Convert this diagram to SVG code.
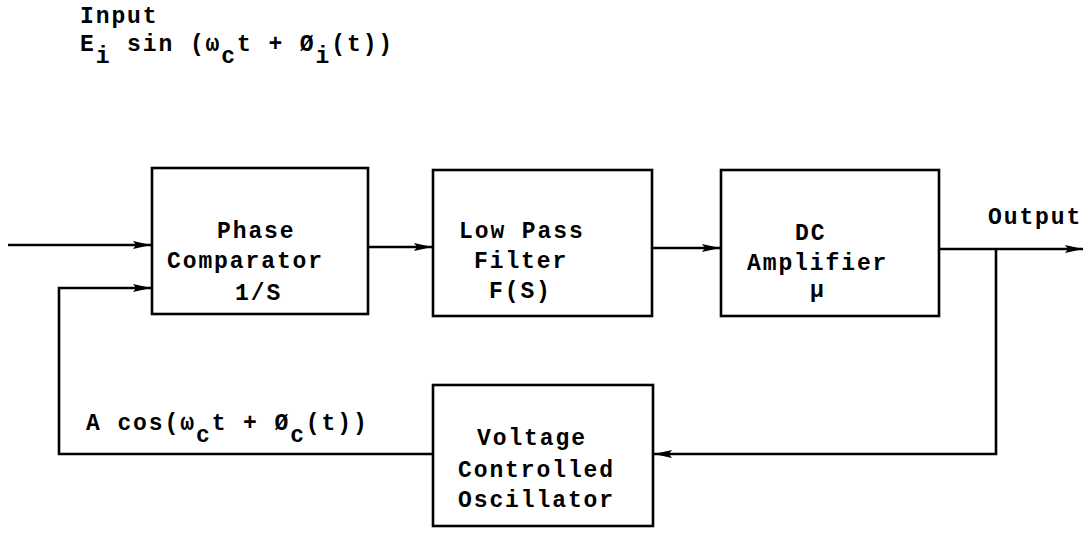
<svg xmlns="http://www.w3.org/2000/svg" width="1091" height="533" viewBox="0 0 1091 533">
<style>
  .box { fill: #fff; stroke: #000; stroke-width: 2.6; }
  .wire { fill: none; stroke: #000; stroke-width: 2.6; }
  .t { font-family: "Liberation Mono", "DejaVu Sans Mono", monospace; font-size: 23px; font-weight: bold; letter-spacing: 1.9px; fill: #000; }
</style>
<defs>
  <marker id="arr" markerUnits="userSpaceOnUse" markerWidth="20" markerHeight="10" refX="18" refY="5" orient="auto">
    <path d="M0,1 L18,5 L0,9 L3,5 z" fill="#000"/>
  </marker>
</defs>
<rect width="1091" height="533" fill="#fff"/>

<g id="input-label">
  <text class="t" x="80" y="23">Input</text>
  <text class="t" x="80" y="51">E<tspan dy="12">i</tspan><tspan dy="-12"> sin (ω</tspan><tspan dy="12">c</tspan><tspan dy="-12">t + Ø</tspan><tspan dy="12">i</tspan><tspan dy="-12">(t))</tspan></text>
</g>

<g id="connectors">
  <line class="wire" x1="8" y1="245" x2="151" y2="245" marker-end="url(#arr)"/>
  <line class="wire" x1="368" y1="247" x2="432" y2="247" marker-end="url(#arr)"/>
  <line class="wire" x1="652" y1="248" x2="720" y2="248" marker-end="url(#arr)"/>
  <line class="wire" x1="939" y1="249" x2="1083" y2="249" marker-end="url(#arr)"/>
  <polyline class="wire" points="996,249 996,454 654,454" marker-end="url(#arr)"/>
  <polyline class="wire" points="433,454 59,454 59,288 151,288" marker-end="url(#arr)"/>
</g>

<g id="phase-comparator">
  <rect class="box" x="152" y="168" width="216" height="146"/>
  <text class="t" x="217" y="238">Phase</text>
  <text class="t" x="167" y="268">Comparator</text>
  <text class="t" x="235" y="300">1/S</text>
</g>

<g id="low-pass-filter">
  <rect class="box" x="433" y="170" width="219" height="146"/>
  <text class="t" x="459" y="238">Low Pass</text>
  <text class="t" x="474" y="268">Filter</text>
  <text class="t" x="489" y="298">F(S)</text>
</g>

<g id="dc-amplifier">
  <rect class="box" x="721" y="170" width="218" height="146"/>
  <text class="t" x="795" y="240">DC</text>
  <text class="t" x="747" y="270">Amplifier</text>
  <text class="t" x="810" y="297">μ</text>
</g>

<g id="output-label">
  <text class="t" x="988" y="224">Output</text>
</g>

<g id="vco">
  <rect class="box" x="433" y="385" width="220" height="141"/>
  <text class="t" x="477" y="445">Voltage</text>
  <text class="t" x="458" y="477">Controlled</text>
  <text class="t" x="458" y="507">Oscillator</text>
</g>

<g id="feedback-label">
  <text class="t" x="86" y="430">A cos(ω<tspan dy="12">c</tspan><tspan dy="-12">t + Ø</tspan><tspan dy="12">c</tspan><tspan dy="-12">(t))</tspan></text>
</g>
</svg>
